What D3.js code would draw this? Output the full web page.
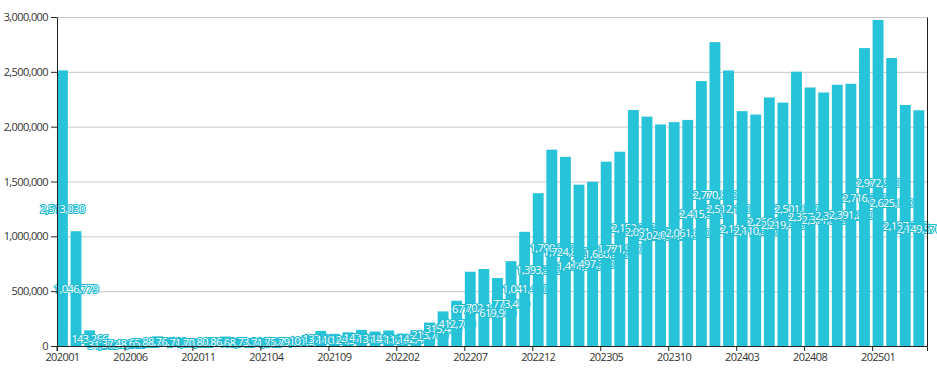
<!DOCTYPE html>
<html>
<head>
<meta charset="utf-8">
<script src="https://d3js.org/d3.v7.min.js"></script>
<style>
  body { margin: 0; background: #fff; }
  text { font-family: "Segoe UI", "Open Sans", sans-serif; }
</style>
</head>
<body>
<svg id="chart"></svg>
<script>
// months 202001 .. 202504
var months = [];
for (var yr = 2020; yr <= 2025; yr++) {
  for (var m = 1; m <= 12; m++) {
    if (yr === 2025 && m > 4) break;
    months.push(String(yr) + (m < 10 ? "0" + m : m));
  }
}

var values = [
  2513030, 1046779, 143266, 31500, 37400, 48600, 65200, 88300, 76100, 71800,
  70400, 80900, 86200, 68700, 73300, 71500, 75800, 79200, 101300, 137600,
  110800, 124500, 147200, 131900, 141300, 112600, 142400, 213700, 315400, 412700,
  677300, 702100, 619900, 773400, 1041400, 1393300, 1790200, 1724800, 1471300, 1497300,
  1680500, 1771900, 2152300, 2091700, 2020300, 2041200, 2061600, 2415500, 2770800, 2512100,
  2141400, 2110500, 2266200, 2219400, 2501600, 2357300, 2311800, 2382100, 2391200, 2716300,
  2972900, 2625600, 2197300, 2149570
];

var yTicks = [0, 500000, 1000000, 1500000, 2000000, 2500000, 3000000];
var xTickLabels = months.filter(function(d, i) { return i % 5 === 0; });

var ancho = 937, alto = 369;
var margen = {arriba: 17, derecha: 10, abajo: 23, izquierda: 57};
var barColor = "#26c3d9";

var svg = d3.select("#chart").attr("width", ancho).attr("height", alto);

var x = d3.scaleBand()
  .domain(months)
  .range([margen.izquierda, ancho - margen.derecha])
  .paddingInner(0.2)
  .paddingOuter(0.1)
  .align(0);

var y = d3.scaleLinear()
  .domain([0, 3000000])
  .range([alto - margen.abajo, margen.arriba]);

// grid lines
svg.append("g")
  .selectAll("line")
  .data(yTicks.slice(1))
  .join("line")
  .attr("x1", margen.izquierda)
  .attr("x2", ancho - margen.derecha)
  .attr("y1", function(d) { return y(d) + 0.5; })
  .attr("y2", function(d) { return y(d) + 0.5; })
  .attr("stroke", "#c8c8c8");

// bars with their labels, each pair drawn in order
var grupos = svg.append("g")
  .selectAll("g")
  .data(values)
  .join("g");

grupos.append("rect")
  .attr("x", function(d, i) { return x(months[i]); })
  .attr("y", function(d) { return y(d); })
  .attr("width", x.bandwidth())
  .attr("height", function(d) { return y(0) - y(d); })
  .attr("fill", barColor);

grupos.append("text")
  .attr("x", function(d, i) { return x(months[i]) + x.bandwidth() / 2; })
  .attr("y", function(d) { return (y(d) + y(0)) / 2; })
  .attr("text-anchor", "middle")
  .attr("dominant-baseline", "central")
  .attr("font-size", "11px")
  .attr("letter-spacing", "-0.6px")
  .attr("fill", "#fff")
  .attr("stroke", "#22bcd3")
  .attr("stroke-width", 2.2)
  .attr("paint-order", "stroke")
  .text(function(d) { return d3.format(",")(d); });

// left axis
var ejeY = svg.append("g")
  .attr("transform", "translate(" + margen.izquierda + ",0)")
  .call(d3.axisLeft(y).tickValues(yTicks).tickFormat(d3.format(",")).tickSizeOuter(0));

// right axis line
svg.append("g")
  .attr("transform", "translate(" + (ancho - margen.derecha) + ",0)")
  .call(d3.axisRight(y).tickValues([]).tickSizeOuter(0));

// bottom axis
var ejeX = svg.append("g")
  .attr("transform", "translate(0," + (alto - margen.abajo) + ")")
  .call(d3.axisBottom(x).tickValues(xTickLabels).tickSize(5).tickSizeOuter(5));

ejeX.selectAll(".tick line").attr("x1", -x.bandwidth() / 2).attr("x2", -x.bandwidth() / 2);

svg.selectAll(".domain").attr("stroke", "#222");
svg.selectAll(".tick line").attr("stroke", "#222");
svg.selectAll(".tick text")
  .attr("fill", "#333")
  .attr("font-size", "11px")
  .attr("letter-spacing", "-0.6px")
  .style("font-family", "\"Segoe UI\", \"Open Sans\", sans-serif");
ejeX.selectAll(".tick text").attr("y", 7);
</script>
</body>
</html>
